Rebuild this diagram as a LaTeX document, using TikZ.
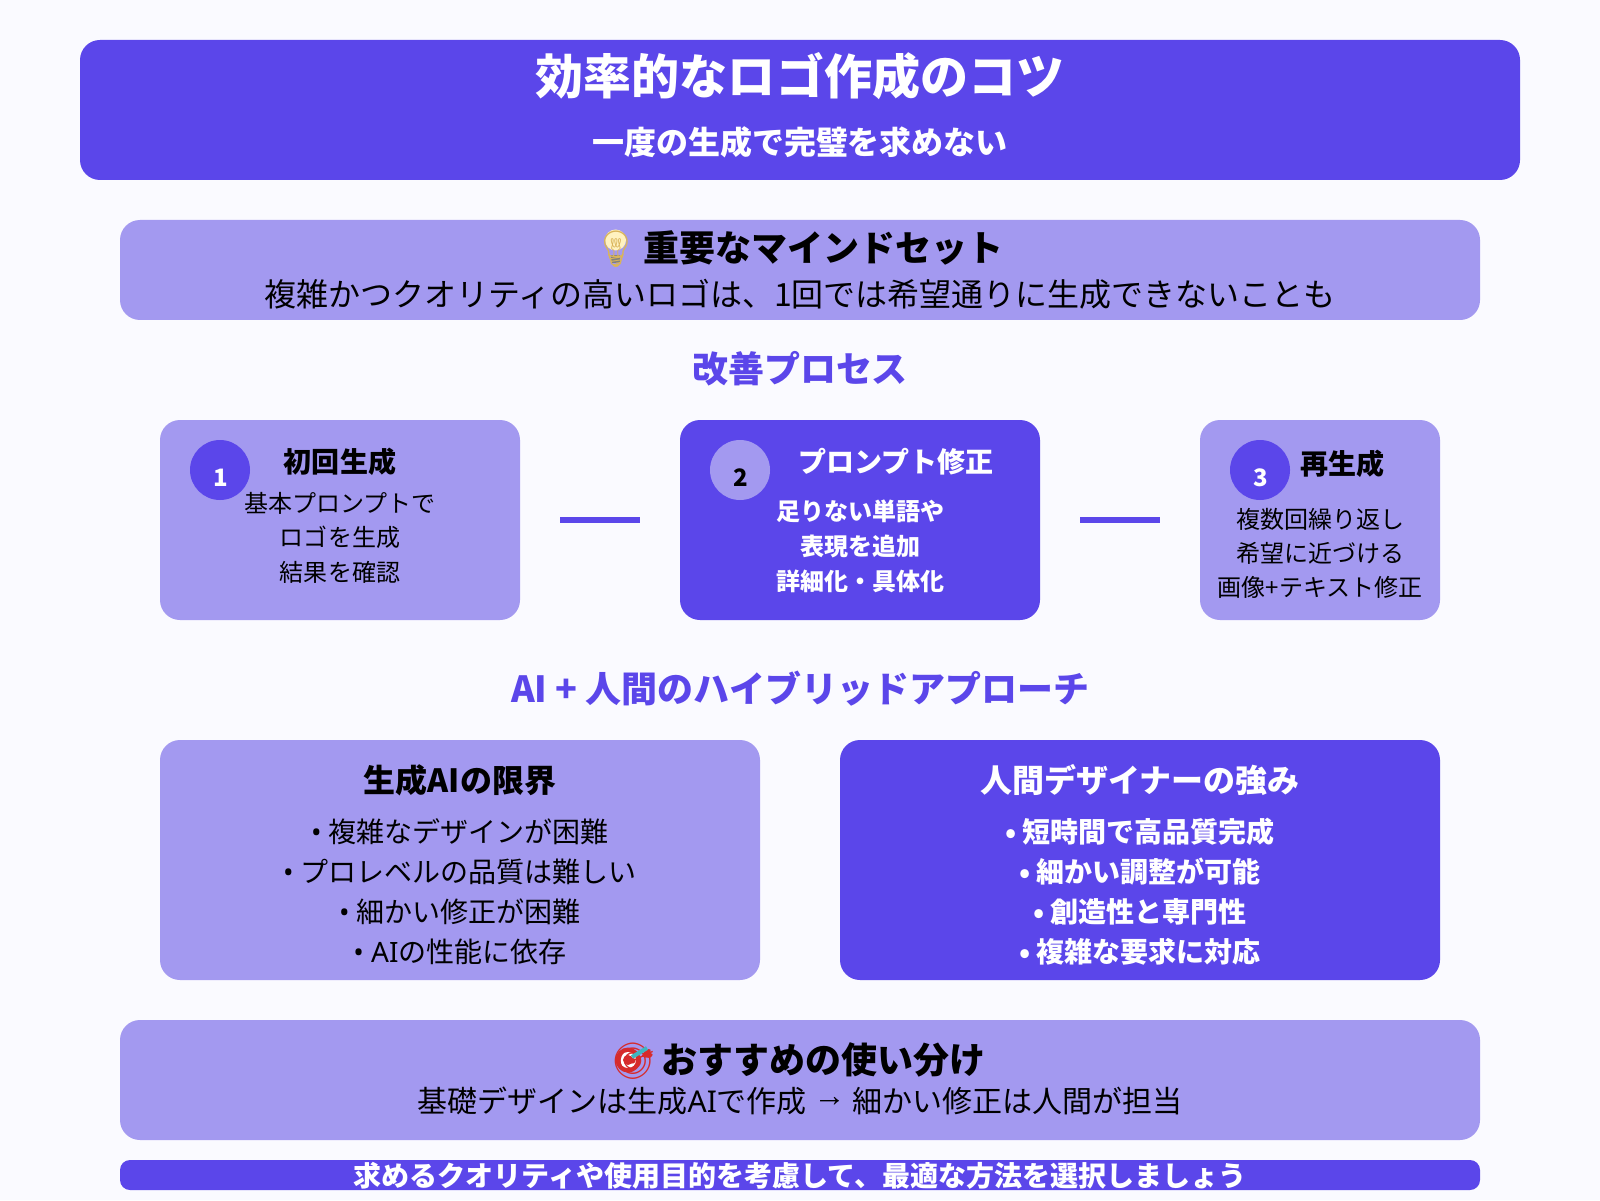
\documentclass[tikz,border=0pt]{standalone}
\usepackage{fontspec}
\setmainfont{Noto Sans CJK JP}
\newfontfamily\emojifont{Noto Emoji}
\newfontfamily\latinfont{Noto Sans}
\newfontfamily\arrowfont{Liberation Sans}
\definecolor{indigo}{HTML}{5B46EA}
\definecolor{lilac}{HTML}{A399F0}
\definecolor{paper}{HTML}{FAFAFF}
\definecolor{bulbglow}{HTML}{FFF2C0}
\definecolor{bulbcol}{HTML}{D9B45A}
\definecolor{dartcol}{HTML}{D62B2B}
\definecolor{darttail}{HTML}{3FB5C0}
\tikzset{
  panel/.style={rounded corners=0.2cm, inner sep=0pt, outer sep=0pt},
  darkpanel/.style={panel, fill=indigo},
  lightpanel/.style={panel, fill=lilac},
  txt/.style={anchor=base, inner sep=0pt, align=center},
  numdisc/.style={circle, minimum size=0.6cm, inner sep=0pt},
  steplink/.style={indigo, line width=0.06cm, shorten >=0.4cm, shorten <=0.4cm},
}
\newcommand{\pxA}{\fontsize{13.66}{16}\selectfont}
\newcommand{\pxB}{\fontsize{10.24}{12}\selectfont}
\newcommand{\pxC}{\fontsize{9.10}{11}\selectfont}
\newcommand{\pxCb}{\fontsize{8.54}{11}\selectfont}
\newcommand{\pxD}{\fontsize{7.97}{10}\selectfont}
\newcommand{\pxE}{\fontsize{6.83}{8}\selectfont}
\begin{document}
\begin{tikzpicture}
    \useasboundingbox[fill=paper] (0, 0) rectangle (16, 12);
    % header
    \node[darkpanel, minimum width=14.4cm, minimum height=1.4cm] (header) at (8, 10.9) {};
    \node[txt, white, font=\pxA\bfseries] (headertitle) at (8, 11.05) {効率的なロゴ作成のコツ};
    \node[txt, white, font=\pxC\bfseries] (headersub) at (8, 10.455) {一度の生成で完璧を求めない};
    % mindset
    \node[lightpanel, minimum width=13.6cm, minimum height=1cm] (mindset) at (8, 9.3) {};
    \fill[bulbglow] (6.155, 9.6) circle (0.105);
    \fill[gray] (6.11, 9.37) rectangle (6.2, 9.45);
    \node[txt, font=\pxB\bfseries] (mindhead) at (7.98, 9.38) {{\emojifont\color{bulbcol}💡}\hspace{-1.1pt} 重要なマインドセット};
    \node[txt, font=\pxC] (mindbody) at (8, 8.935) {複雑かつクオリティの高いロゴは、1回では希望通りに生成できないことも};
    % process
    \node[txt, indigo, font=\pxB\bfseries] (processhead) at (8, 8.18) {改善プロセス};
    \node[lightpanel, minimum width=3.6cm, minimum height=2cm] (stepA) at (3.4, 6.8) {};
    \node[darkpanel, minimum width=3.6cm, minimum height=2cm] (stepB) at (8.6, 6.8) {};
    \node[lightpanel, minimum width=2.4cm, minimum height=2cm] (stepC) at (13.2, 6.8) {};
    \draw[steplink] (stepA) -- (stepB);
    \draw[steplink] (stepB) -- (stepC);
    \node[numdisc, fill=indigo] (discA) at (2.2, 7.3) {};
    \node[numdisc, fill=lilac] (discB) at (7.4, 7.3) {};
    \node[numdisc, fill=indigo] (discC) at (12.6, 7.3) {};
    \node[txt, white, font=\pxE\bfseries] (numA) at (2.21, 7.14) {1};
    \node[txt, font=\pxE\bfseries] (numB) at (7.41, 7.14) {2};
    \node[txt, white, font=\pxE\bfseries] (numC) at (12.61, 7.14) {3};
    \node[txt, font=\pxD\bfseries] (stepAhead) at (3.4, 7.28) {初回生成};
    \node[txt, white, font=\pxD\bfseries] (stepBhead) at (8.96, 7.28) {プロンプト修正};
    \node[txt, font=\pxD\bfseries] (stepChead) at (13.42, 7.26) {再生成};
    \foreach \y/\s [count=\k] in {6.875/基本プロンプトで, 6.535/ロゴを生成, 6.185/結果を確認} {
        \node[txt, font=\pxE] (stepAline\k) at (3.4, \y) {\s};
    }
    \foreach \y/\s [count=\k] in {6.80/足りない単語や, 6.45/表現を追加, 6.10/詳細化・具体化} {
        \node[txt, white, font=\pxE\bfseries] (stepBline\k) at (8.6, \y) {\s};
    }
    \foreach \y/\s [count=\k] in {6.72/複数回繰り返し, 6.38/希望に近づける, 6.04/画像+テキスト修正} {
        \node[txt, font=\pxE] (stepCline\k) at (13.2, \y) {\s};
    }
    % hybrid
    \node[txt, indigo, font=\pxB\bfseries] (hybridhead) at (8, 4.98) {AI + 人間のハイブリッドアプローチ};
    \node[lightpanel, minimum width=6cm, minimum height=2.4cm] (limits) at (4.6, 3.4) {};
    \node[darkpanel, minimum width=6cm, minimum height=2.4cm] (strengths) at (11.4, 3.4) {};
    \node[txt, font=\pxC\bfseries] (limitshead) at (4.6, 4.08) {生成AIの限界};
    \node[txt, white, font=\pxC\bfseries] (strengthshead) at (11.4, 4.08) {人間デザイナーの強み};
    \foreach \y/\s [count=\k] in {3.58/複雑なデザインが困難, 3.18/プロレベルの品質は難しい, 2.78/細かい修正が困難, 2.38/{\latinfont AI}の性能に依存} {
        \node[txt, font=\pxD] (limitsline\k) at (4.6, \y) {{\latinfont • }\s};
    }
    \foreach \y/\s [count=\k] in {3.58/短時間で高品質完成, 3.18/細かい調整が可能, 2.78/創造性と専門性, 2.38/複雑な要求に対応} {
        \node[txt, white, font=\pxD\bfseries] (strengthsline\k) at (11.4, \y) {• \s};
    }
    % advice
    \node[lightpanel, minimum width=13.6cm, minimum height=1.2cm] (advice) at (8, 1.2) {};
    \fill[dartcol] (6.28, 1.4) circle (0.125);
    \fill[white] (6.28, 1.4) circle (0.08);
    \fill[dartcol] (6.28, 1.4) circle (0.05);
    \node[txt, font=\pxB\bfseries] (advicehead) at (7.98, 1.27) {{\emojifont\color{dartcol}🎯}\hspace{-1.1pt} おすすめの使い分け};
    \draw[darttail, line width=0.04cm] (6.32, 1.43) -- (6.47, 1.52);
    \node[txt, font=\pxCb] (advicebody) at (8, 0.88) {基礎デザインは生成{\latinfont AI}で作成 \raisebox{1.6pt}{\arrowfont\pxC →} 細かい修正は人間が担当};
    \node[panel, rounded corners=0.1cm, fill=indigo, minimum width=13.6cm, minimum height=0.3cm] (footer) at (8, 0.25) {};
    \node[txt, white, font=\pxD\bfseries] (footertext) at (8, 0.14) {求めるクオリティや使用目的を考慮して、最適な方法を選択しましょう};
\end{tikzpicture}
\end{document}
